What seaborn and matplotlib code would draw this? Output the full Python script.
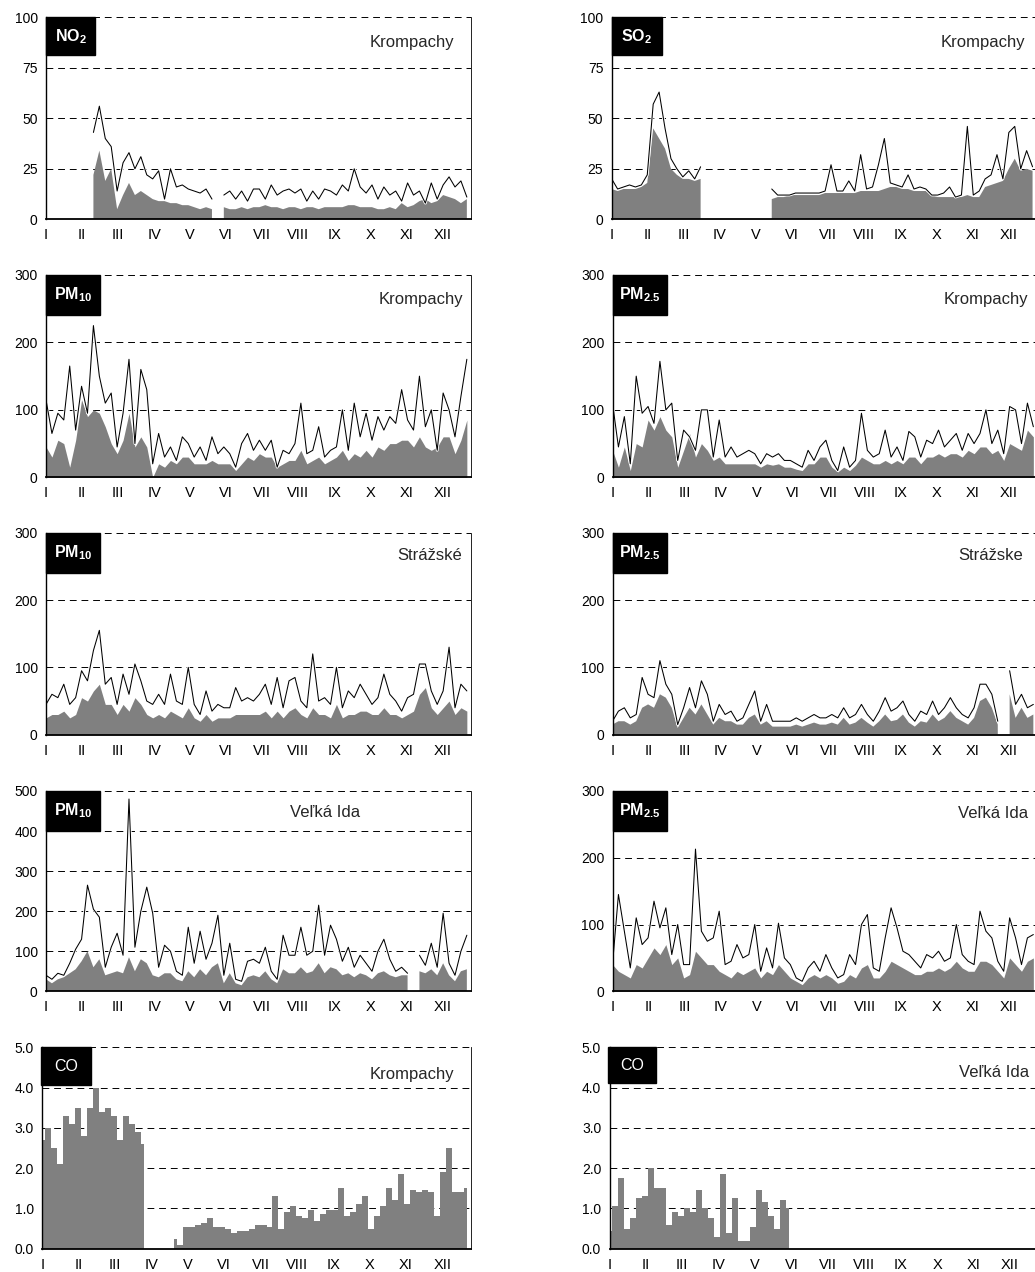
import numpy as np
import pandas as pd
import matplotlib
matplotlib.use("Agg")
import matplotlib.pyplot as plt
import matplotlib.patheffects as pe
from matplotlib.patches import Rectangle
import seaborn as sns

sns.set_style("white")
plt.rcParams['font.family'] = ['Liberation Sans', 'DejaVu Sans']
plt.rcParams['mathtext.fontset'] = 'custom'
plt.rcParams['mathtext.rm'] = 'Liberation Sans'
plt.rcParams['mathtext.bf'] = 'Liberation Sans:bold'
plt.rcParams['mathtext.it'] = 'Liberation Sans:italic'

nan = np.nan
# 5-day samples, 6 per month
days = np.arange(0, 360, 5)
months = ['I', 'II', 'III', 'IV', 'V', 'VI', 'VII', 'VIII', 'IX', 'X', 'XI', 'XII']

# ---- NO2 Krompachy ----
no2_kro_max = [nan, nan, nan, nan, nan, nan,
               nan, nan, 43, 56, 40, 36,
               14, 28, 33, 25, 31, 22,
               20, 24, 10, 25, 16, 17,
               15, 14, 13, 15, 10, nan,
               12, 14, 10, 14, 9, 15,
               15, 10, 17, 12, 14, 15,
               13, 15, 9, 14, 10, 15,
               14, 12, 17, 14, 25, 16,
               13, 17, 10, 16, 12, 14,
               9, 18, 12, 14, 8, 18,
               10, 17, 21, 16, 19, 11]
no2_kro_avg = [nan, nan, nan, nan, nan, nan,
               nan, nan, 22, 34, 19, 25,
               5, 12, 18, 12, 14, 12,
               10, 9, 9, 8, 8, 7,
               7, 6, 5, 6, 5, nan,
               6, 5, 5, 6, 5, 6,
               6, 7, 6, 6, 5, 6,
               6, 5, 6, 6, 5, 6,
               6, 6, 6, 7, 7, 6,
               6, 6, 5, 5, 6, 5,
               8, 6, 7, 9, 10, 8,
               9, 12, 11, 10, 8, 10]

# ---- SO2 Krompachy ----
so2_kro_max = [20, 15, 16, 17, 16, 17,
               22, 57, 63, 45, 30, 25,
               21, 24, 20, 26, nan, nan,
               nan, nan, nan, nan, nan, nan,
               nan, nan, nan, 15, 12, 12,
               12, 13, 13, 13, 13, 13,
               14, 27, 14, 14, 19, 14,
               32, 15, 16, 27, 40, 18,
               17, 16, 22, 15, 16, 15,
               12, 12, 13, 16, 11, 12,
               46, 12, 14, 20, 22, 32,
               20, 43, 46, 25, 34, 26]
so2_kro_avg = [15, 14, 15, 15, 15, 16,
               18, 45, 40, 35, 25, 22,
               20, 20, 19, 20, nan, nan,
               nan, nan, nan, nan, nan, nan,
               nan, nan, nan, 10, 11, 11,
               12, 12, 12, 12, 12, 12,
               13, 13, 13, 13, 13, 13,
               14, 14, 14, 14, 15, 16,
               16, 15, 15, 14, 14, 14,
               12, 11, 11, 11, 11, 11,
               12, 11, 11, 16, 17, 18,
               19, 25, 30, 24, 25, 24]

# ---- PM10 Krompachy ----
pm10_kro_max = [115, 65, 95, 85, 165, 70,
                135, 95, 225, 150, 110, 125,
                45, 95, 175, 50, 160, 130,
                20, 65, 30, 45, 25, 60,
                50, 30, 45, 25, 60, 35,
                45, 35, 15, 50, 65, 40,
                55, 40, 55, 15, 40, 35,
                50, 110, 35, 40, 75, 30,
                40, 45, 100, 40, 110, 60,
                95, 55, 90, 70, 90, 80,
                130, 85, 70, 150, 75, 100,
                40, 125, 100, 60, 120, 175]
pm10_kro_avg = [45, 30, 55, 50, 15, 55,
                115, 90, 100, 95, 75, 50,
                35, 55, 95, 45, 60, 45,
                0, 20, 15, 25, 20, 30,
                30, 20, 20, 20, 25, 20,
                20, 20, 10, 20, 30, 25,
                35, 30, 30, 15, 20, 25,
                25, 40, 20, 25, 30, 20,
                25, 30, 40, 25, 35, 30,
                40, 30, 45, 40, 50, 50,
                55, 55, 45, 60, 45, 40,
                45, 60, 60, 35, 55, 85]

# ---- PM2.5 Krompachy ----
pm25_kro_max = [110, 45, 90, 20, 150, 95,
                105, 80, 172, 100, 110, 25,
                70, 60, 40, 100, 100, 30,
                85, 30, 45, 30, 35, 40,
                35, 20, 35, 30, 35, 25,
                25, 20, 15, 40, 25, 45,
                55, 25, 10, 45, 15, 25,
                95, 40, 30, 35, 70, 30,
                45, 25, 68, 60, 30, 55,
                50, 70, 45, 55, 65, 40,
                65, 50, 65, 100, 50, 70,
                35, 105, 100, 50, 110, 75]
pm25_kro_avg = [40, 15, 45, 10, 50, 45,
                85, 70, 90, 70, 60, 15,
                40, 65, 30, 50, 40, 25,
                30, 20, 20, 20, 20, 20,
                20, 15, 20, 18, 20, 15,
                15, 12, 10, 20, 20, 30,
                30, 15, 8, 15, 10, 18,
                30, 25, 20, 20, 25, 20,
                25, 20, 30, 30, 20, 30,
                30, 35, 30, 35, 35, 30,
                40, 35, 45, 45, 35, 40,
                25, 50, 45, 40, 70, 60]

# ---- PM10 Strazske ----
pm10_str_max = [45, 60, 55, 75, 45, 55,
                95, 80, 125, 155, 75, 85,
                45, 90, 60, 105, 80, 50,
                45, 60, 45, 90, 50, 45,
                100, 45, 30, 65, 35, 45,
                40, 40, 70, 50, 55, 50,
                60, 75, 45, 85, 40, 80,
                85, 50, 40, 120, 50, 55,
                45, 100, 40, 65, 55, 75,
                60, 45, 55, 90, 60, 50,
                35, 55, 60, 105, 105, 65,
                45, 65, 130, 40, 75, 65]
pm10_str_avg = [25, 30, 30, 35, 25, 30,
                55, 50, 65, 75, 45, 45,
                30, 45, 35, 55, 45, 30,
                25, 30, 25, 35, 30, 25,
                40, 25, 20, 30, 20, 25,
                25, 25, 30, 30, 30, 30,
                30, 35, 25, 35, 25, 35,
                40, 30, 25, 40, 30, 30,
                25, 45, 25, 30, 30, 35,
                35, 30, 30, 40, 30, 30,
                25, 30, 35, 60, 70, 40,
                30, 40, 50, 30, 40, 35]

# ---- PM2.5 Strazske ----
pm25_str_max = [20, 35, 40, 25, 30, 85,
                60, 55, 110, 75, 60, 15,
                40, 70, 40, 80, 60, 20,
                45, 30, 35, 20, 25, 45,
                65, 20, 45, 20, 20, 20,
                20, 25, 20, 25, 30, 25,
                25, 30, 25, 40, 25, 30,
                45, 30, 20, 35, 55, 35,
                40, 50, 30, 20, 35, 30,
                50, 30, 40, 55, 40, 30,
                25, 40, 75, 75, 60, 20,
                nan, 95, 45, 60, 40, 45]
pm25_str_avg = [15, 20, 20, 15, 20, 40,
                45, 40, 60, 55, 40, 10,
                25, 40, 30, 45, 30, 15,
                25, 20, 20, 15, 15, 25,
                30, 15, 20, 12, 12, 12,
                12, 15, 12, 15, 18, 15,
                15, 18, 15, 25, 15, 18,
                25, 18, 12, 20, 30, 20,
                22, 30, 18, 12, 20, 18,
                30, 20, 25, 35, 25, 20,
                15, 25, 50, 55, 40, 15,
                nan, 60, 25, 40, 25, 30]

# ---- PM10 Velka Ida ----
pm10_vi_max = [40, 30, 45, 40, 70, 105,
               130, 265, 205, 185, 60, 110,
               145, 90, 480, 110, 200, 260,
               195, 60, 115, 100, 50, 40,
               160, 70, 150, 80, 120, 190,
               40, 120, 30, 25, 75, 80,
               70, 110, 50, 30, 140, 90,
               90, 160, 90, 100, 215, 90,
               165, 130, 75, 110, 60, 90,
               70, 50, 100, 130, 80, 50,
               60, 45, nan, 90, 65, 120,
               60, 195, 70, 40, 100, 140]
pm10_vi_avg = [30, 20, 30, 35, 45, 55,
               75, 100, 60, 80, 40, 45,
               50, 45, 85, 50, 80, 70,
               40, 35, 45, 45, 30, 25,
               50, 35, 55, 40, 60, 70,
               20, 45, 20, 15, 35, 40,
               35, 50, 30, 20, 55, 45,
               45, 60, 45, 50, 70, 45,
               60, 55, 40, 45, 35, 45,
               40, 30, 45, 50, 40, 35,
               40, 40, nan, 50, 45, 55,
               40, 70, 40, 25, 50, 55]

# ---- PM2.5 Velka Ida ----
pm25_vi_max = [40, 145, 90, 35, 110, 70,
               80, 135, 95, 125, 55, 100,
               40, 40, 213, 90, 75, 80,
               120, 40, 45, 70, 50, 55,
               100, 30, 65, 35, 102, 50,
               40, 20, 15, 35, 45, 30,
               55, 35, 20, 25, 55, 40,
               100, 115, 35, 30, 80, 125,
               95, 60, 55, 45, 35, 55,
               50, 60, 45, 50, 100, 55,
               45, 40, 120, 90, 80, 45,
               30, 110, 80, 40, 80, 85]
pm25_vi_avg = [40, 30, 25, 20, 40, 35,
               50, 65, 55, 70, 40, 50,
               20, 25, 60, 50, 40, 40,
               30, 25, 20, 30, 25, 30,
               35, 20, 30, 25, 40, 30,
               20, 15, 10, 20, 25, 20,
               25, 20, 12, 15, 25, 20,
               35, 40, 20, 20, 30, 45,
               40, 35, 30, 25, 25, 30,
               30, 35, 30, 35, 45, 35,
               30, 30, 45, 45, 40, 30,
               20, 50, 40, 30, 45, 50]

# ---- CO ----
co_kro = [2.7, 3.0, 2.5, 2.1, 3.3, 3.1,
          3.5, 2.8, 3.5, 4.0, 3.4, 3.5,
          3.3, 2.7, 3.3, 3.1, 2.9, 2.6,
          nan, nan, nan, nan, 0.25, 0.1,
          0.55, 0.55, 0.6, 0.65, 0.75, 0.55,
          0.55, 0.5, 0.4, 0.45, 0.45, 0.5,
          0.6, 0.6, 0.55, 1.3, 0.5, 0.9,
          1.05, 0.8, 0.75, 0.95, 0.7, 0.85,
          0.95, 0.95, 1.5, 0.8, 0.9, 1.1,
          1.3, 0.5, 0.8, 1.05, 1.5, 1.2,
          1.85, 1.1, 1.45, 1.4, 1.45, 1.4,
          0.8, 1.9, 2.5, 1.4, 1.4, 1.5]
co_vi = [0.45, 1.05, 1.75, 0.5, 0.75, 1.25,
         1.3, 2.0, 1.5, 1.5, 0.6, 0.9,
         0.8, 1.0, 0.9, 1.45, 1.0, 0.75,
         0.3, 1.85, 0.4, 1.25, 0.2, 0.2,
         0.55, 1.45, 1.15, 0.8, 0.5, 1.2,
         1.0, nan, nan, nan, nan, nan,
         nan, nan, nan, nan, nan, nan,
         nan, nan, nan, nan, nan, nan,
         nan, nan, nan, nan, nan, nan,
         nan, nan, nan, nan, nan, nan,
         nan, nan, nan, nan, nan, nan,
         nan, nan, nan, nan, nan, nan]

W, H = 1035, 1272
fig = plt.figure(figsize=(W / 100, H / 100), dpi=100)

row_top = [17.3, 275, 532.7, 791, 1047.3]
row_bot = [219.3, 477.3, 734.7, 991.3, 1248.7]

# (row, left px, right px, max series, fill series, ymax, ystep, fmt, label, station, sx, sy, ha, box w px, box h px)
panels = [
    (0, 46, 471, no2_kro_max, no2_kro_avg, 100, 25, '%d', r'$\mathbf{NO_2}$', 'Krompachy', 0.96, 0.875, 'right', 49, 38),
    (0, 611.7, 1036.7, so2_kro_max, so2_kro_avg, 100, 25, '%d', r'$\mathbf{SO_2}$', 'Krompachy', 0.972, 0.875, 'right', 50, 38),
    (1, 46, 471, pm10_kro_max, pm10_kro_avg, 300, 100, '%d', r'$\mathbf{PM_{10}}$', 'Krompachy', 0.981, 0.88, 'right', 54, 40),
    (1, 612.5, 1037.5, pm25_kro_max, pm25_kro_avg, 300, 100, '%d', r'$\mathbf{PM_{2.5}}$', 'Krompachy', 0.979, 0.88, 'right', 54, 40),
    (2, 46, 471, pm10_str_max, pm10_str_avg, 300, 100, '%d', r'$\mathbf{PM_{10}}$', 'Strážské', 0.979, 0.886, 'right', 54, 40),
    (2, 612.5, 1037.5, pm25_str_max, pm25_str_avg, 300, 100, '%d', r'$\mathbf{PM_{2.5}}$', 'Strážske', 0.965, 0.886, 'right', 54, 40),
    (3, 46, 471, pm10_vi_max, pm10_vi_avg, 500, 100, '%d', r'$\mathbf{PM_{10}}$', 'Veľká Ida', 0.656, 0.895, 'center', 54, 40),
    (3, 612.5, 1037.5, pm25_vi_max, pm25_vi_avg, 300, 100, '%d', r'$\mathbf{PM_{2.5}}$', 'Veľká Ida', 0.979, 0.89, 'right', 54, 40),
    (4, 42.3, 471, None, co_kro, 5, 1, '%.1f', 'CO', 'Krompachy', 0.96, 0.866, 'right', 50, 38),
    (4, 609.5, 1038.5, None, co_vi, 5, 1, '%.1f', 'CO', 'Veľká Ida', 0.979, 0.876, 'right', 48, 36),
]

month_pos = np.arange(12) * 365 / 12
gray = '#808080'

for (r, lpx, rpx, smax, savg, ymax, ystep, fmt, lab, station, sx, sy, ha, bw, bh) in panels:
    top, bot = row_top[r], row_bot[r]
    ax = fig.add_axes([lpx / W, 1 - bot / H, (rpx - lpx) / W, (bot - top) / H])

    avg = np.array(savg, dtype=float)
    step = 'mid' if smax is None else None
    ax.fill_between(days, 0, avg, where=~np.isnan(avg), step=step, color=gray, lw=0, zorder=2)

    if smax is not None:
        df = pd.DataFrame({'day': days, 'val': smax})
        df['seg'] = df['val'].isna().cumsum()
        df = df.dropna()
        sns.lineplot(data=df, x='day', y='val', units='seg', estimator=None,
                     color='black', lw=0.75, ax=ax, legend=False, zorder=3,
                     path_effects=[pe.Stroke(linewidth=2.0, foreground='white'), pe.Normal()])

    ax.set_xlim(0, 358.5)
    ax.set_ylim(0, ymax)
    yt = np.arange(0, ymax + ystep / 2, ystep)
    ax.set_yticks(yt, [fmt % v for v in yt])
    ax.set_xticks(month_pos, months)
    ax.set_xlabel('')
    ax.set_ylabel('')
    for y in yt[1:]:
        ax.axhline(y, color='black', lw=0.7, ls=(0, (7, 5)), zorder=1)

    ax.tick_params(axis='x', direction='inout', length=7, width=1.0, pad=3, labelsize=10.5, colors='black')
    ax.tick_params(axis='y', direction='out', length=3, width=0.8, pad=3, labelsize=10, colors='black')
    ax.spines['top'].set_visible(False)
    ax.spines['left'].set_linewidth(1.0)
    ax.spines['bottom'].set_linewidth(1.3)
    ax.spines['right'].set_linewidth(0.6)
    for s in ax.spines.values():
        s.set_color('black')
        s.set_zorder(4)

    wfrac = bw / (rpx - lpx)
    hfrac = bh / (bot - top)
    x0 = -1.5 / (rpx - lpx) if lab == 'CO' else 0
    ax.add_patch(Rectangle((x0, 1 - hfrac), wfrac, hfrac, transform=ax.transAxes,
                           color='black', clip_on=False, zorder=6))
    ax.text(x0 + wfrac / 2, 1 - hfrac / 2, lab, transform=ax.transAxes, color='white',
            ha='center', va='center', fontsize=11.5, zorder=7)
    ax.text(sx, sy, station, transform=ax.transAxes, ha=ha, va='center', fontsize=12, zorder=7)

fig.savefig('out.png', dpi=100)
